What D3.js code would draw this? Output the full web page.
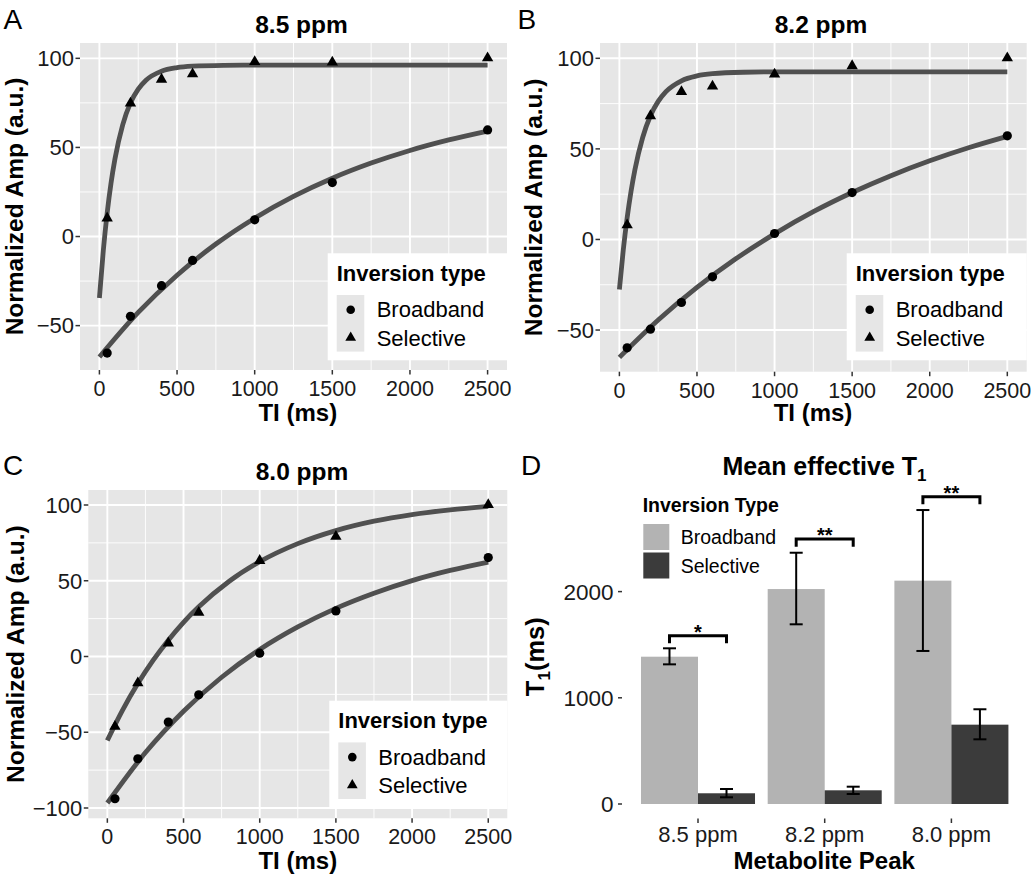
<!DOCTYPE html>
<html><head><meta charset="utf-8">
<script src="https://cdn.jsdelivr.net/npm/d3@7"></script>
<style>
body{margin:0;background:#fff}
svg{display:block}
text{font-family:"Liberation Sans",Arial,Helvetica,sans-serif}
</style>
</head><body>
<svg id="c" width="1035" height="879"></svg>
<script>
// ---------- DATA ----------
const TI = [50, 200, 400, 600, 1000, 1500, 2500];
const broad85 = [-65.4, -44.8, -27.6, -13.4, 9.4, 30.3, 59.8];
const sel85   = [10.3, 74.8, 88.2, 91.2, 98.1, 97.8, 100.2];
const broad82 = [-59.8, -49.5, -34.8, -20.6, 3.3, 25.9, 57.2];
const sel82   = [8.0, 68.2, 81.5, 84.6, 91.2, 95.8, 100.2];
const broad80 = [-93.9, -67.5, -43.3, -25.3, 2.2, 30.1, 65.3];
const sel80   = [-46.2, -17.5, 8.8, 29.0, 63.3, 79.2, 100.2];

// fitted recovery curves
const fitTISlow = [0, 250, 500, 750, 1000, 1250, 1500, 1750, 2000, 2250, 2500];
const fitBroad85 = [-67.6, -42.6, -21.7, -4.2, 10.3, 22.5, 32.7, 41.2, 48.3, 54.2, 59.2];
const fitBroad82 = [-65.1, -44.5, -26.5, -10.7, 3.1, 15.3, 25.9, 35.2, 43.4, 50.6, 56.9];
const fitBroad80 = [-96.7, -63.4, -36.1, -13.7, 4.6, 19.5, 31.8, 41.8, 50.1, 56.8, 62.3];
const fitTIFast = [0, 25, 50, 75, 100, 150, 200, 250, 300, 400, 500, 600, 800, 1000, 1500, 2000, 2500];
const fitSel85 = [-34.5, -8.0, 13.2, 30.1, 43.5, 62.7, 75.0, 82.7, 87.7, 92.8, 94.8, 95.6, 96.1, 96.2, 96.2, 96.2, 96.2];
const fitSel82 = [-27.6, -5.8, 12.0, 26.6, 38.5, 56.3, 68.3, 76.2, 81.6, 87.6, 90.3, 91.5, 92.3, 92.5, 92.5, 92.5, 92.5];
const fitTISel80 = [0, 100, 200, 300, 400, 500, 600, 800, 1000, 1250, 1500, 1750, 2000, 2250, 2500];
const fitSel80 = [-55.4, -35.4, -17.9, -2.6, 10.8, 22.6, 32.8, 49.7, 62.6, 74.5, 83.1, 89.3, 93.7, 96.8, 99.1];

const xTicks = [0, 500, 1000, 1500, 2000, 2500];
const yTicksAB = [-50, 0, 50, 100];
const yTicksC = [-100, -50, 0, 50, 100];
const inversionTypes = ["Broadband", "Selective"];

const peaks = ["8.5 ppm", "8.2 ppm", "8.0 ppm"];
const t1Broad   = [1387, 2024, 2103];
const t1BroadLo = [1315, 1692, 1441];
const t1BroadHi = [1466, 2366, 2768];
const t1Sel     = [101, 129, 747];
const t1SelLo   = [63, 94, 609];
const t1SelHi   = [141, 163, 892];
const sigLabels = ["*", "**", "**"];
const sigBar    = [1584, 2495, 2893];
const sigTip    = [1513, 2423, 2822];
const t1Ticks = [0, 1000, 2000];

// ---------- DRAW ----------
const svg = d3.select("#c");
const PANEL_BG = "#e6e6e6";
const LINE_COL = "#505050";

function txt(g, x, y, s, o = {}) {
  return g.append("text").attr("x", x).attr("y", y).text(s)
    .attr("font-size", o.size || 22)
    .attr("font-weight", o.bold ? "bold" : "normal")
    .attr("text-anchor", o.anchor || "start")
    .attr("fill", o.fill || "#1a1a1a");
}

function minorOf(ticks, dom) {
  const step = ticks[1] - ticks[0];
  const out = [];
  for (let i = -1; i < ticks.length; i++) {
    const v = ticks[0] + (i + 0.5) * step;
    if (v > dom[0] && v < dom[1]) out.push(v);
  }
  return out;
}

function scatterPanel(c) {
  const g = svg.append("g");
  const x = d3.scaleLinear().domain([-125, 2625]).range([c.x0, c.x1]);
  const y = d3.scaleLinear().domain(c.yDom).range([c.y1, c.y0]);
  g.append("rect").attr("x", c.x0).attr("y", c.y0)
    .attr("width", c.x1 - c.x0).attr("height", c.y1 - c.y0).attr("fill", PANEL_BG);
  // minor grid
  minorOf(xTicks, x.domain()).forEach(v => g.append("line")
    .attr("x1", x(v)).attr("x2", x(v)).attr("y1", c.y0).attr("y2", c.y1)
    .attr("stroke", "#fff").attr("stroke-width", 0.9));
  minorOf(c.yTicks, y.domain()).forEach(v => g.append("line")
    .attr("y1", y(v)).attr("y2", y(v)).attr("x1", c.x0).attr("x2", c.x1)
    .attr("stroke", "#fff").attr("stroke-width", 0.9));
  // major grid
  xTicks.forEach(v => g.append("line")
    .attr("x1", x(v)).attr("x2", x(v)).attr("y1", c.y0).attr("y2", c.y1)
    .attr("stroke", "#fff").attr("stroke-width", 1.9));
  c.yTicks.forEach(v => g.append("line")
    .attr("y1", y(v)).attr("y2", y(v)).attr("x1", c.x0).attr("x2", c.x1)
    .attr("stroke", "#fff").attr("stroke-width", 1.9));
  // fit curves
  const line = d3.line().x(d => x(d[0])).y(d => y(d[1])).curve(d3.curveMonotoneX);
  c.fits.forEach(f => g.append("path")
    .attr("d", line(f[0].map((t, i) => [t, f[1][i]])))
    .attr("fill", "none").attr("stroke", LINE_COL).attr("stroke-width", 4.8)
    .attr("stroke-linecap", "butt"));
  // points
  g.selectAll(null).data(TI.map((t, i) => [t, c.broad[i]])).enter().append("circle")
    .attr("cx", d => x(d[0])).attr("cy", d => y(d[1])).attr("r", 4.6).attr("fill", "#000");
  const tri = d3.symbol().type(d3.symbolTriangle).size(56);
  g.selectAll(null).data(TI.map((t, i) => [t, c.sel[i]])).enter().append("path")
    .attr("d", tri).attr("transform", d => `translate(${x(d[0])},${y(d[1])})`).attr("fill", "#000");
  // axes ticks
  xTicks.forEach(v => {
    g.append("line").attr("x1", x(v)).attr("x2", x(v)).attr("y1", c.y1).attr("y2", c.y1 + 4.5)
      .attr("stroke", "#333").attr("stroke-width", 1.5);
    txt(g, x(v), c.y1 + 26, d3.format("d")(v), {anchor: "middle", size: 21.5});
  });
  c.yTicks.forEach(v => {
    g.append("line").attr("x1", c.x0 - 4.5).attr("x2", c.x0).attr("y1", y(v)).attr("y2", y(v))
      .attr("stroke", "#333").attr("stroke-width", 1.5);
    txt(g, c.x0 - 6, y(v) + 7.8, d3.format("d")(v), {anchor: "end", size: 22});
  });
  // titles
  txt(g, c.titleX, c.titleY, c.title, {anchor: "middle", bold: true, size: 24.5, fill: "#000"});
  txt(g, c.xTitleX, c.xTitleY + 1.5, "TI (ms)", {anchor: "middle", bold: true, size: 24, fill: "#000"});
  g.append("text").attr("transform", `translate(${c.yTitleX},${(c.y0 + c.y1) / 2}) rotate(-90)`)
    .attr("text-anchor", "middle").attr("font-size", 24.5).attr("font-weight", "bold")
    .attr("fill", "#000").text("Normalized Amp (a.u.)");
  // letter
  txt(g, c.letterX, c.letterY, c.letter, {size: 28, fill: "#000"});
  // legend
  const lx = c.legX, ly = c.legY;
  g.append("rect").attr("x", lx).attr("y", ly).attr("width", c.x1 - lx).attr("height", 107).attr("fill", "#fff");
  txt(g, lx + 9, ly + 27.7, "Inversion type", {bold: true, size: 22, fill: "#000"});
  g.append("rect").attr("x", lx + 9).attr("y", ly + 41.7).attr("width", 27.6).attr("height", 56.6).attr("fill", PANEL_BG);
  g.append("circle").attr("cx", lx + 23).attr("cy", ly + 56.4).attr("r", 4.3).attr("fill", "#000");
  g.append("path").attr("d", d3.symbol().type(d3.symbolTriangle).size(50))
    .attr("transform", `translate(${lx + 23},${ly + 84.4})`).attr("fill", "#000");
  txt(g, lx + 49, ly + 64, inversionTypes[0], {size: 22, fill: "#000"});
  txt(g, lx + 49, ly + 92.3, inversionTypes[1], {size: 22, fill: "#000"});
}

scatterPanel({
  x0: 80, x1: 507, y0: 43, y1: 370, yDom: [-74.9, 108.6], yTicks: yTicksAB,
  broad: broad85, sel: sel85,
  fits: [[fitTISlow, fitBroad85], [fitTIFast, fitSel85]],
  title: "8.5 ppm", titleX: 301.5, titleY: 33,
  xTitleX: 297.8, xTitleY: 419, yTitleX: 22.5,
  letter: "A", letterX: 3.5, letterY: 28.5,
  legX: 327.7, legY: 253.3
});
scatterPanel({
  x0: 600, x1: 1026.7, y0: 43, y1: 371.7, yDom: [-73.0, 108.45], yTicks: yTicksAB,
  broad: broad82, sel: sel82,
  fits: [[fitTISlow, fitBroad82], [fitTIFast, fitSel82]],
  title: "8.2 ppm", titleX: 821, titleY: 33,
  xTitleX: 813, xTitleY: 419, yTitleX: 541.5,
  letter: "B", letterX: 517.5, letterY: 28.5,
  legX: 846.7, legY: 253.3
});
scatterPanel({
  x0: 88.3, x1: 507.3, y0: 490, y1: 818.3, yDom: [-106.8, 109.9], yTicks: yTicksC,
  broad: broad80, sel: sel80,
  fits: [[fitTISlow, fitBroad80], [fitTISel80, fitSel80]],
  title: "8.0 ppm", titleX: 302, titleY: 480,
  xTitleX: 297.8, xTitleY: 867, yTitleX: 23.5,
  letter: "C", letterX: 3, letterY: 475,
  legX: 329.3, legY: 700.7
});

// ---------- PANEL D ----------
(function () {
  const g = svg.append("g");
  const x = d3.scaleBand().domain(peaks).range([634.65, 1014.75]).paddingInner(0.1).paddingOuter(0.05);
  const xs = d3.scaleBand().domain(inversionTypes).range([0, x.bandwidth()]);
  const y = d3.scaleLinear().domain([0, 3000]).range([804, 485.4]);
  const fills = {Broadband: "#b3b3b3", Selective: "#3b3b3b"};
  const rows = [];
  peaks.forEach((p, i) => {
    rows.push({p, t: "Broadband", v: t1Broad[i], lo: t1BroadLo[i], hi: t1BroadHi[i]});
    rows.push({p, t: "Selective", v: t1Sel[i], lo: t1SelLo[i], hi: t1SelHi[i]});
  });
  g.selectAll(null).data(rows).enter().append("rect")
    .attr("x", d => x(d.p) + xs(d.t)).attr("width", xs.bandwidth())
    .attr("y", d => y(d.v)).attr("height", d => y(0) - y(d.v))
    .attr("fill", d => fills[d.t]);
  // error bars
  const cap = 6.5;
  rows.forEach(d => {
    const cx = x(d.p) + xs(d.t) + xs.bandwidth() / 2;
    g.append("line").attr("x1", cx).attr("x2", cx).attr("y1", y(d.lo)).attr("y2", y(d.hi))
      .attr("stroke", "#000").attr("stroke-width", 2);
    [d.lo, d.hi].forEach(v => g.append("line").attr("x1", cx - cap).attr("x2", cx + cap)
      .attr("y1", y(v)).attr("y2", y(v)).attr("stroke", "#000").attr("stroke-width", 2));
  });
  // significance brackets
  peaks.forEach((p, i) => {
    const xa = x(p) + xs("Broadband") + xs.bandwidth() / 2;
    const xb = x(p) + xs("Selective") + xs.bandwidth() / 2;
    g.append("path")
      .attr("d", `M${xa},${y(sigTip[i])}V${y(sigBar[i])}H${xb}V${y(sigTip[i])}`)
      .attr("fill", "none").attr("stroke", "#000").attr("stroke-width", 3);
    txt(g, (xa + xb) / 2, y(sigBar[i]) + 3.2, sigLabels[i], {anchor: "middle", size: 20, bold: true, fill: "#000"});
  });
  // y axis ticks
  t1Ticks.forEach(v => {
    g.append("line").attr("x1", 618).attr("x2", 622).attr("y1", y(v)).attr("y2", y(v))
      .attr("stroke", "#333").attr("stroke-width", 1.5);
    txt(g, 613.5, y(v) + 8, d3.format("d")(v), {anchor: "end", size: 22.5});
  });
  peaks.forEach(p => {
    const cx = x(p) + x.bandwidth() / 2;
    g.append("line").attr("x1", cx).attr("x2", cx).attr("y1", 818.5).attr("y2", 823)
      .attr("stroke", "#333").attr("stroke-width", 1.5);
    txt(g, cx, 842, p, {anchor: "middle", size: 22});
  });
  // titles
  const t = g.append("text").attr("x", 824.5).attr("y", 475).attr("text-anchor", "middle")
    .attr("font-size", 25).attr("font-weight", "bold").attr("fill", "#000");
  t.append("tspan").text("Mean effective T");
  t.append("tspan").attr("font-size", 17).attr("dy", 6).text("1");
  txt(g, 824.2, 869, "Metabolite Peak", {anchor: "middle", bold: true, size: 24, fill: "#000"});
  const yt = g.append("text").attr("transform", "translate(544,656.7) rotate(-90)")
    .attr("text-anchor", "middle").attr("font-size", 25.5).attr("font-weight", "bold").attr("fill", "#000");
  yt.append("tspan").text("T");
  yt.append("tspan").attr("font-size", 17).attr("dy", 6).text("1");
  yt.append("tspan").attr("dy", -6).text("(ms)");
  // legend
  txt(g, 642.7, 512, "Inversion Type", {bold: true, size: 19.5, fill: "#000"});
  g.append("rect").attr("x", 643.3).attr("y", 524).attr("width", 26).attr("height", 26).attr("fill", fills.Broadband);
  g.append("rect").attr("x", 643.3).attr("y", 552.5).attr("width", 26).attr("height", 26).attr("fill", fills.Selective);
  txt(g, 680.7, 544.3, inversionTypes[0], {size: 19.5, fill: "#000"});
  txt(g, 680.7, 572.7, inversionTypes[1], {size: 19.5, fill: "#000"});
  txt(g, 521, 475, "D", {size: 28, fill: "#000"});
})();
</script>
</body></html>
